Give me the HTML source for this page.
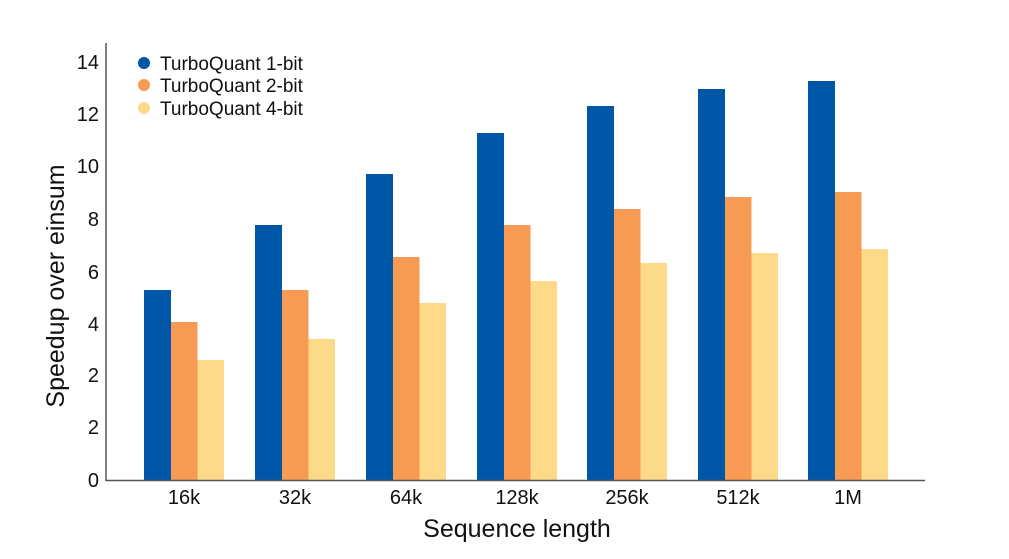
<!DOCTYPE html>
<html><head><style>
body{margin:0;background:#fff;}
svg text{font-family:"Liberation Sans",sans-serif;fill:#111;}
</style></head><body>
<svg width="1009" height="554" xmlns="http://www.w3.org/2000/svg">
<g id="bars"></g>
<line x1="106" y1="43" x2="106" y2="481" stroke="#555" stroke-width="1.5"/>
<line x1="106" y1="480.5" x2="925" y2="480.5" stroke="#555" stroke-width="1.5"/>
<g font-size="20" text-anchor="end">
<text x="99" y="487">0</text>
<text x="99" y="434">2</text>
<text x="99" y="382">2</text>
<text x="99" y="331">4</text>
<text x="99" y="279">6</text>
<text x="99" y="226">8</text>
<text x="99" y="173">10</text>
<text x="99" y="121">12</text>
<text x="99" y="69">14</text>
</g>
<g font-size="20" text-anchor="middle">
<text x="184" y="504">16k</text>
<text x="295" y="504">32k</text>
<text x="406" y="504">64k</text>
<text x="517" y="504">128k</text>
<text x="627" y="504">256k</text>
<text x="738" y="504">512k</text>
<text x="848" y="504">1M</text>
</g>
<text x="517" y="537" font-size="25" text-anchor="middle">Sequence length</text>
<text transform="translate(64,286) rotate(-90)" font-size="25" text-anchor="middle">Speedup over einsum</text>
<circle cx="144" cy="63" r="6" fill="#0057a8"/>
<circle cx="144" cy="85" r="6" fill="#f79b54"/>
<circle cx="144" cy="108" r="6" fill="#fdd98a"/>
<g font-size="19">
<text x="160" y="70">TurboQuant 1-bit</text>
<text x="160" y="92">TurboQuant 2-bit</text>
<text x="160" y="115">TurboQuant 4-bit</text>
</g>
</svg>
<script>
var b=[290,225,174,133,106,89,81],o=[322,290,257,225,209,197,192],y=[360,339,303,281,263,253,249];
var c=[184,295,406,517,627,738,848],g=document.getElementById('bars'),s='';
for(var i=0;i<7;i++){var x=c[i]-40;
s+='<rect x="'+x+'" y="'+b[i]+'" width="27" height="'+(481-b[i])+'" fill="#0057a8"/>';
s+='<rect x="'+(x+27)+'" y="'+o[i]+'" width="26.5" height="'+(481-o[i])+'" fill="#f79b54"/>';
s+='<rect x="'+(x+53.5)+'" y="'+y[i]+'" width="26.5" height="'+(481-y[i])+'" fill="#fdd98a"/>';}
g.innerHTML=s;
</script>
</body></html>
